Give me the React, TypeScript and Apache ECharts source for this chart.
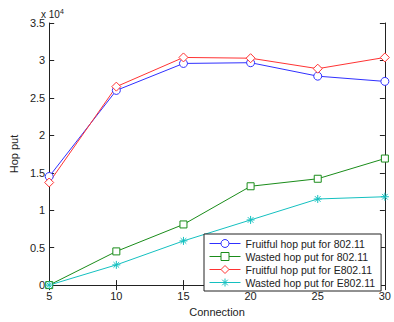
import React, { useEffect, useRef } from "react";
import * as echarts from "echarts";

const connections = [5, 10, 15, 20, 25, 30];
const fruitful80211 = [14500, 26000, 29600, 29700, 27900, 27200];
const wasted80211 = [0, 4500, 8100, 13200, 14200, 16900];
const fruitfulE80211 = [13700, 26500, 30400, 30300, 28900, 30400];
const wastedE80211 = [0, 2700, 5900, 8700, 11500, 11800];
const seriesNames = [
  "Fruitful hop put for 802.11",
  "Wasted hop put for 802.11",
  "Fruitful hop put for E802.11",
  "Wasted hop put for E802.11",
];
const seriesColors = ["#3030ff", "#1a8c1a", "#ff3333", "#14c0c0"];

const FONT = "Liberation Sans, Arial, sans-serif";

export default function App() {
  const ref = useRef<HTMLDivElement>(null);
  useEffect(() => {
    const chart = echarts.init(ref.current!, null, { renderer: "svg" });
    const mk = (name: string, data: number[], color: string, symbol: string, size: number) => ({
      name,
      type: "line",
      data: connections.map((c, i) => [c, data[i]]),
      color,
      symbol,
      symbolSize: size,
      showSymbol: true,
      lineStyle: { color, width: 1 },
      itemStyle: { color: "#ffffff", borderColor: color, borderWidth: 1 },
      emphasis: { disabled: true },
      z: 3,
    });
    const axisCommon = {
      axisLine: { show: true, lineStyle: { color: "#222", width: 1 } },
      axisTick: { show: true, inside: true, length: 5, lineStyle: { color: "#222" } },
      splitLine: { show: false },
    };
    chart.setOption({
      animation: false,
      grid: { left: 41, top: 23, right: 5, bottom: 27 },
      xAxis: [
        {
          type: "value",
          min: 5,
          max: 30,
          interval: 5,
          name: "Connection",
          nameLocation: "middle",
          nameGap: 20,
          nameTextStyle: { fontFamily: FONT, fontSize: 11, color: "#222" },
          axisLabel: { fontFamily: FONT, fontSize: 11, color: "#222", margin: 5 },
          ...axisCommon,
        },
        {
          type: "value",
          position: "top",
          min: 5,
          max: 30,
          interval: 5,
          axisLabel: { show: false },
          ...axisCommon,
        },
      ],
      yAxis: [
        {
          type: "value",
          min: 0,
          max: 35000,
          interval: 5000,
          name: "Hop put",
          nameLocation: "middle",
          nameRotate: 90,
          nameGap: 26,
          nameTextStyle: { fontFamily: FONT, fontSize: 11, color: "#222" },
          axisLabel: {
            fontFamily: FONT,
            fontSize: 11,
            color: "#222",
            margin: 4,
            formatter: (v: number) => String(v / 10000),
          },
          ...axisCommon,
        },
        {
          type: "value",
          position: "right",
          min: 0,
          max: 35000,
          interval: 5000,
          axisLabel: { show: false },
          ...axisCommon,
        },
      ],
      legend: {
        orient: "vertical",
        left: 204,
        top: 234,
        itemWidth: 31,
        itemHeight: 10,
        itemGap: 0,
        padding: [3, 6, 2, 5],
        borderColor: "#222",
        borderWidth: 1,
        backgroundColor: "#fff",
        textStyle: { fontFamily: FONT, fontSize: 10.5, color: "#222", lineHeight: 13 },
        data: seriesNames.map((n, i) => ({
          name: n,
          lineStyle: { color: seriesColors[i], width: 1 },
          itemStyle: { color: "#ffffff", borderColor: seriesColors[i], borderWidth: 1 },
        })),
      },
      graphic: [
        {
          type: "text",
          left: 41,
          top: 8,
          style: {
            text: "{a|x 10}{b|4}",
            rich: {
              a: { fontFamily: FONT, fontSize: 10, fill: "#222" },
              b: { fontFamily: FONT, fontSize: 7, fill: "#222", verticalAlign: "top", padding: [0, 0, 6, 0] },
            },
          },
        },
      ],
      series: [
        mk(seriesNames[0], fruitful80211, seriesColors[0], "circle", 8),
        mk(seriesNames[1], wasted80211, seriesColors[1], "rect", 7),
        mk(seriesNames[2], fruitfulE80211, seriesColors[2], "diamond", 9),
        mk(
          seriesNames[3],
          wastedE80211,
          seriesColors[3],
          "path://M0,-5L0,5M-5,0L5,0M-3.5,-3.5L3.5,3.5M-3.5,3.5L3.5,-3.5",
          8
        ),
      ],
    });
    return () => chart.dispose();
  }, []);
  return <div ref={ref} style={{ width: 394, height: 322, position: "absolute", left: 0, top: 0 }} />;
}
